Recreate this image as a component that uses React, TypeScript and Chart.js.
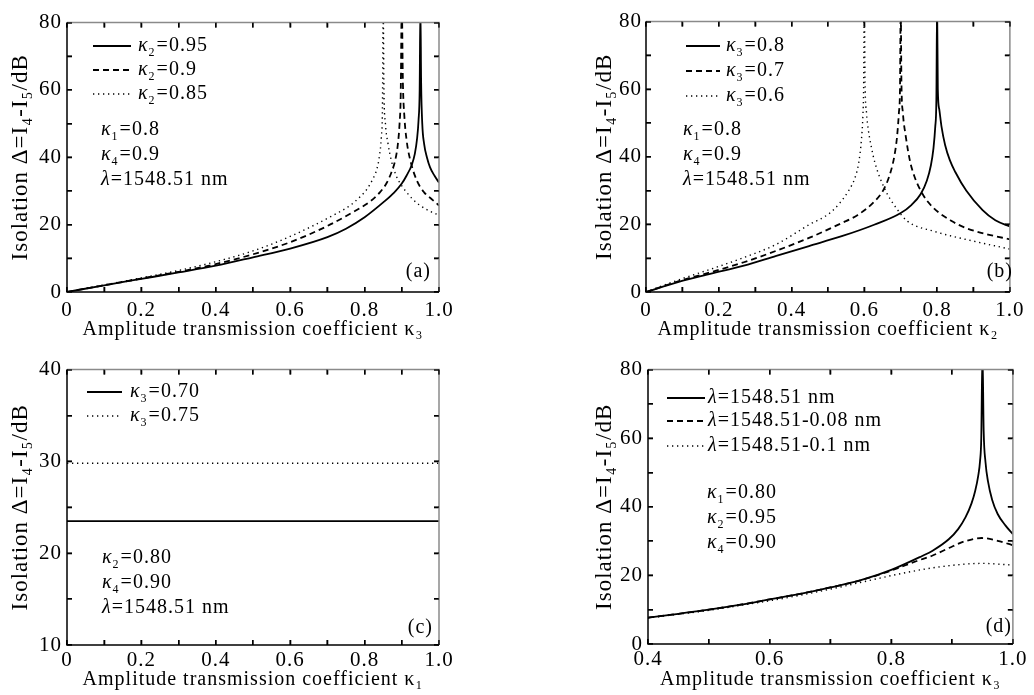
import React, { useEffect, useRef } from 'react';
import { Chart, registerables } from 'chart.js';

Chart.register(...registerables);

const FONT = '"Liberation Serif", "Times New Roman", serif';

// ---------- Panel (a): x = κ3 ----------
const aSolidX = [0, 0.1, 0.2, 0.3, 0.4, 0.5, 0.6, 0.7, 0.75, 0.8, 0.85, 0.88, 0.9, 0.913, 0.927, 0.935, 0.941, 0.945, 0.948, 0.95, 0.952, 0.955, 0.96, 0.968, 0.976, 0.988, 1.0];
const aSolidY = [0, 2.0, 3.9, 5.8, 7.8, 10.3, 12.9, 16.3, 18.8, 22.2, 26.6, 29.6, 32.2, 34.6, 37.8, 41, 45.5, 51, 60, 85, 62, 50, 44, 39.8, 37, 34.5, 32.5];
const aDashX = [0, 0.1, 0.2, 0.3, 0.4, 0.5, 0.6, 0.7, 0.77, 0.815, 0.841, 0.86, 0.872, 0.882, 0.889, 0.894, 0.897, 0.9, 0.903, 0.907, 0.913, 0.922, 0.94, 0.96, 0.976, 1.0];
const aDashY = [0, 2.0, 4.0, 6.0, 8.3, 11.2, 14.8, 19.6, 23.8, 26.9, 29.6, 32.5, 35.5, 39, 43.5, 50, 58, 85, 62, 52, 45, 39.5, 33.2, 29.6, 28, 25.7];
const aDotX = [0, 0.1, 0.2, 0.3, 0.4, 0.5, 0.6, 0.716, 0.761, 0.79, 0.806, 0.822, 0.833, 0.84, 0.845, 0.848, 0.85, 0.852, 0.856, 0.863, 0.872, 0.885, 0.9, 0.913, 0.93, 0.949, 0.975, 1.0];
const aDotY = [0, 2.1, 4.2, 6.4, 9.0, 12.2, 16.5, 22.8, 25.7, 28.5, 30.5, 33.5, 36.5, 40.5, 46, 55, 85, 60, 50, 44, 39, 34.5, 31.5, 29.6, 27.5, 25.7, 24, 22.8];
const aLabels = ['κ₂=0.95', 'κ₂=0.9', 'κ₂=0.85'];
const aNotes = ['κ₁=0.8', 'κ₄=0.9', 'λ=1548.51 nm'];

// ---------- Panel (b): x = κ2 ----------
const bSolidX = [0, 0.09, 0.179, 0.269, 0.358, 0.448, 0.538, 0.627, 0.699, 0.73, 0.755, 0.772, 0.783, 0.79, 0.795, 0.798, 0.8, 0.802, 0.806, 0.812, 0.822, 0.835, 0.85, 0.88, 0.925, 0.96, 1.0];
const bSolidY = [0, 3.0, 5.4, 7.8, 10.7, 13.6, 16.5, 19.9, 23.3, 25.8, 29, 33, 37.5, 42.5, 49, 57, 85, 60, 54, 49, 43.5, 39, 35.5, 30, 24.2, 21.2, 19.4];
const bDashX = [0, 0.09, 0.179, 0.269, 0.358, 0.448, 0.538, 0.582, 0.627, 0.654, 0.672, 0.683, 0.69, 0.695, 0.698, 0.7, 0.702, 0.706, 0.714, 0.725, 0.737, 0.76, 0.79, 0.84, 0.88, 0.94, 1.0];
const bDashY = [0, 3.2, 5.9, 8.8, 12.2, 16.0, 20.4, 22.8, 26.7, 30.5, 35.4, 40.5, 46, 53, 60, 85, 62, 53, 46, 39, 34.4, 29, 24.9, 21, 18.9, 17, 15.6];
const bDotX = [0, 0.09, 0.179, 0.269, 0.358, 0.448, 0.51, 0.557, 0.575, 0.585, 0.592, 0.596, 0.598, 0.6, 0.602, 0.606, 0.611, 0.62, 0.629, 0.656, 0.69, 0.719, 0.79, 0.898, 1.0];
const bDotY = [0, 3.6, 6.8, 10.2, 14.1, 19.9, 23.8, 30.0, 34, 38.5, 45, 52, 60, 85, 62, 53, 48, 42.5, 38.3, 30.5, 24.5, 20.9, 18, 15.1, 12.7];
const bLabels = ['κ₃=0.8', 'κ₃=0.7', 'κ₃=0.6'];
const bNotes = ['κ₁=0.8', 'κ₄=0.9', 'λ=1548.51 nm'];

// ---------- Panel (c): x = κ1 ----------
const cX = [0, 0.2, 0.4, 0.6, 0.8, 1.0];
const cSolidY = [23.5, 23.5, 23.5, 23.5, 23.5, 23.5];
const cDotY = [29.8, 29.8, 29.8, 29.8, 29.8, 29.8];
const cLabels = ['κ₃=0.70', 'κ₃=0.75'];
const cNotes = ['κ₂=0.80', 'κ₄=0.90', 'λ=1548.51 nm'];

// ---------- Panel (d): x = κ3 ----------
const dSolidX = [0.4, 0.45, 0.5, 0.55, 0.6, 0.65, 0.7, 0.75, 0.8, 0.85, 0.868, 0.895, 0.91, 0.922, 0.932, 0.938, 0.943, 0.946, 0.948, 0.95, 0.952, 0.955, 0.959, 0.966, 0.975, 0.988, 1.0];
const dSolidY = [7.7, 8.8, 10.0, 11.4, 13.0, 14.6, 16.5, 18.6, 21.6, 25.6, 27.2, 30.6, 33.5, 36.9, 41, 44.6, 49, 53.3, 60, 85, 62, 53, 47.5, 42, 37.9, 34.5, 32];
const dDashX = [0.4, 0.45, 0.5, 0.55, 0.6, 0.65, 0.7, 0.75, 0.8, 0.842, 0.868, 0.895, 0.922, 0.949, 0.975, 1.0];
const dDashY = [7.7, 8.8, 10.0, 11.4, 13.0, 14.6, 16.5, 18.6, 21.4, 24.2, 25.8, 28.0, 30.0, 30.9, 30.1, 28.8];
const dDotX = [0.4, 0.45, 0.5, 0.55, 0.6, 0.65, 0.708, 0.761, 0.815, 0.868, 0.922, 0.95, 0.975, 1.0];
const dDotY = [7.6, 8.7, 9.8, 11.2, 12.6, 14.2, 16.3, 18.4, 20.5, 22.2, 23.3, 23.5, 23.3, 23.0];
const dLabels = ['λ=1548.51 nm', 'λ=1548.51-0.08 nm', 'λ=1548.51-0.1 nm'];
const dNotes = ['κ₁=0.80', 'κ₂=0.95', 'κ₄=0.90'];

// ---------- minor tick positions ----------
const tickX01 = [0, 0.1, 0.2, 0.3, 0.4, 0.5, 0.6, 0.7, 0.8, 0.9, 1.0];
const tickX41 = [0.4, 0.5, 0.6, 0.7, 0.8, 0.9, 1.0];
const tickY80 = [0, 10, 20, 30, 40, 50, 60, 70, 80];
const tickY40 = [10, 15, 20, 25, 30, 35, 40];

const panelTags = ['(a)', '(b)', '(c)', '(d)'];
const yTitle = 'Isolation Δ=I₄-I₅/dB';
const xTitles = [
  'Amplitude transmission coefficient κ₃',
  'Amplitude transmission coefficient κ₂',
  'Amplitude transmission coefficient κ₁',
  'Amplitude transmission coefficient κ₃',
];

// ---------- styles ----------
const STYLE = {
  solid: { dash: [] as number[], width: 1.8 },
  dash: { dash: [6, 4], width: 1.8 },
  dot: { dash: [1.3, 3.7], width: 1.4 },
};

const pts = (xs: number[], ys: number[]) => xs.map((x, i) => ({ x, y: ys[i] }));

type Layout = {
  box: { l: number; t: number; w: number; h: number };
  area: { l: number; r: number; t: number; b: number };
  xMin: number;
  xMax: number;
  yMin: number;
  yMax: number;
  yStep: number;
  yMinorStep: number;
  xTicks: number[];
  yTicks: number[];
  yTitleX: number;
  xTitleOff: number;
  xTickPad: number;
  yTickPad: number;
  legend: { x0: number; x1: number; tx: number; rows: number[] };
  notes: { x: number; rows: number[] };
  tag: { r: number; y: number };
};

const PANELS: { layout: Layout; series: { label: string; data: { x: number; y: number }[]; style: keyof typeof STYLE }[]; notes: string[]; tag: string; xTitle: string }[] = [
  {
    layout: {
      box: { l: 0, t: 0, w: 517, h: 347 },
      area: { l: 67, r: 439, t: 16, b: 292 },
      xMin: 0, xMax: 1, yMin: 0, yMax: 80, yStep: 20, yMinorStep: 10, xTicks: tickX01, yTicks: tickY80,
      yTitleX: 21, xTitleOff: 17, xTickPad: 6, yTickPad: 5,
      legend: { x0: 93, x1: 131, tx: 138, rows: [46, 70, 94] },
      notes: { x: 101, rows: [130, 155, 180] },
      tag: { r: 431, y: 272 },
    },
    series: [
      { label: aLabels[0], data: pts(aSolidX, aSolidY), style: 'solid' },
      { label: aLabels[1], data: pts(aDashX, aDashY), style: 'dash' },
      { label: aLabels[2], data: pts(aDotX, aDotY), style: 'dot' },
    ],
    notes: aNotes, tag: panelTags[0], xTitle: xTitles[0],
  },
  {
    layout: {
      box: { l: 517, t: 0, w: 517, h: 347 },
      area: { l: 646, r: 1018, t: 16, b: 292 },
      xMin: 0, xMax: 1, yMin: 0, yMax: 80, yStep: 20, yMinorStep: 10, xTicks: tickX01, yTicks: tickY80,
      yTitleX: 605, xTitleOff: 17, xTickPad: 6, yTickPad: 4,
      legend: { x0: 686, x1: 720, tx: 726, rows: [46, 71, 96] },
      notes: { x: 683, rows: [130, 155, 180] },
      tag: { r: 1013, y: 272 },
    },
    series: [
      { label: bLabels[0], data: pts(bSolidX, bSolidY), style: 'solid' },
      { label: bLabels[1], data: pts(bDashX, bDashY), style: 'dash' },
      { label: bLabels[2], data: pts(bDotX, bDotY), style: 'dot' },
    ],
    notes: bNotes, tag: panelTags[1], xTitle: xTitles[1],
  },
  {
    layout: {
      box: { l: 0, t: 347, w: 517, h: 348 },
      area: { l: 67, r: 439, t: 369, b: 645 },
      xMin: 0, xMax: 1, yMin: 10, yMax: 40, yStep: 10, yMinorStep: 5, xTicks: tickX01, yTicks: tickY40,
      yTitleX: 21, xTitleOff: 15, xTickPad: 3, yTickPad: 5,
      legend: { x0: 87, x1: 122, tx: 130, rows: [392, 416] },
      notes: { x: 102, rows: [558, 583, 608] },
      tag: { r: 433, y: 628 },
    },
    series: [
      { label: cLabels[0], data: pts(cX, cSolidY), style: 'solid' },
      { label: cLabels[1], data: pts(cX, cDotY), style: 'dot' },
    ],
    notes: cNotes, tag: panelTags[2], xTitle: xTitles[2],
  },
  {
    layout: {
      box: { l: 517, t: 347, w: 517, h: 348 },
      area: { l: 648, r: 1022, t: 368, b: 644 },
      xMin: 0.4, xMax: 1, yMin: 0, yMax: 80, yStep: 20, yMinorStep: 10, xTicks: tickX41, yTicks: tickY80,
      yTitleX: 605, xTitleOff: 15, xTickPad: 3, yTickPad: 5,
      legend: { x0: 667, x1: 705, tx: 708, rows: [398, 421, 446] },
      notes: { x: 707, rows: [493, 518, 543] },
      tag: { r: 1012, y: 627 },
    },
    series: [
      { label: dLabels[0], data: pts(dSolidX, dSolidY), style: 'solid' },
      { label: dLabels[1], data: pts(dDashX, dDashY), style: 'dash' },
      { label: dLabels[2], data: pts(dDotX, dDotY), style: 'dot' },
    ],
    notes: dNotes, tag: panelTags[3], xTitle: xTitles[3],
  },
];

// ---------- rich text (italic greek, subscripts) ----------
const SUBS = '₀₁₂₃₄₅₆₇₈₉';
function toSegs(s: string) {
  const out: { kind: string; t: string }[] = [];
  for (const ch of s) {
    const si = SUBS.indexOf(ch);
    const kind = si >= 0 ? 'sub' : 'κλΔ'.includes(ch) ? 'it' : 'n';
    const t = si >= 0 ? String(si) : ch;
    const last = out[out.length - 1];
    if (last && last.kind === kind) last.t += t;
    else out.push({ kind, t });
  }
  return out;
}
function drawRich(ctx: CanvasRenderingContext2D, s: string, x: number, y: number, size: number) {
  let cx = x;
  for (const seg of toSegs(s)) {
    const fs = seg.kind === 'sub' ? Math.round(size * 0.6) : size;
    ctx.font = `${seg.kind === 'it' ? 'italic ' : ''}${fs}px ${FONT}`;
    const dy = seg.kind === 'sub' ? size * 0.32 : 0;
    ctx.fillText(seg.t, cx, y + dy);
    cx += ctx.measureText(seg.t).width + (seg.kind === 'sub' ? 1 : 0);
  }
}

const TICK_LEN = 5;

function Panel({ p }: { p: (typeof PANELS)[number] }) {
  const ref = useRef<HTMLCanvasElement>(null);
  useEffect(() => {
    const L = p.layout;
    const ox = L.box.l;
    const oy = L.box.t;
    const yW = L.area.l - L.box.l;
    const xH = L.box.t + L.box.h - L.area.b;
    const tickFont = { family: FONT, size: 21, lineHeight: 1.2 };
    const xTitleFont = { family: FONT, size: 20, lineHeight: 1.2 };
    const yTitleFont = { family: FONT, size: 23, lineHeight: 1.2 };
    // inward tick marks drawn by Chart.js itself (negative tick length)
    const tickGrid = {
      display: true,
      drawOnChartArea: false,
      drawTicks: true,
      tickLength: -TICK_LEN,
      tickWidth: 1.3,
      tickColor: '#000',
      color: '#000',
      lineWidth: 1.3,
    };
    const isMajorX = (v: number) => Math.round(v * 10) % 2 === 0;
    const isMajorY = (v: number) => Math.abs(v / L.yStep - Math.round(v / L.yStep)) < 1e-6;

    const decor = {
      id: 'decor',
      beforeDraw(chart: any) {
        chart.ctx.letterSpacing = '1px';
      },
      afterDraw(chart: any) {
        const ctx: CanvasRenderingContext2D = chart.ctx;
        const ca = chart.chartArea;
        const x0 = ca.left, x1 = ca.right, y0 = ca.top, y1 = ca.bottom;
        const xPix = (v: number) => x0 + ((v - L.xMin) / (L.xMax - L.xMin)) * (x1 - x0);
        const yPix = (v: number) => y1 - ((v - L.yMin) / (L.yMax - L.yMin)) * (y1 - y0);
        ctx.save();
        ctx.setLineDash([]);
        // frame
        ctx.strokeStyle = '#8a8a8a';
        ctx.lineWidth = 1.5;
        ctx.beginPath();
        ctx.moveTo(x0, y0); ctx.lineTo(x1, y0); ctx.lineTo(x1, y1);
        ctx.stroke();
        ctx.strokeStyle = '#000';
        ctx.beginPath();
        ctx.moveTo(x0, y0); ctx.lineTo(x0, y1); ctx.lineTo(x1, y1);
        ctx.stroke();
        // inward ticks (duplicate of the scale ticks, same positions)
        ctx.fillStyle = '#000';
        L.xTicks.forEach((v) => {
          const px = Math.round(xPix(v));
          ctx.fillRect(px - 0.6, y1 - TICK_LEN, 1.2, TICK_LEN);
          ctx.fillRect(px - 0.6, y0, 1.2, TICK_LEN);
        });
        L.yTicks.forEach((v) => {
          const py = Math.round(yPix(v));
          ctx.fillRect(x0, py - 0.6, TICK_LEN, 1.2);
          ctx.fillRect(x1 - TICK_LEN, py - 0.6, TICK_LEN, 1.2);
        });

        // legend
        ctx.fillStyle = '#000';
        ctx.textBaseline = 'middle';
        ctx.textAlign = 'left';
        ctx.letterSpacing = '1px';
        p.series.forEach((s, i) => {
          const st = STYLE[s.style];
          const y = L.legend.rows[i] - oy;
          ctx.strokeStyle = '#000';
          ctx.lineWidth = st.width;
          ctx.setLineDash(st.dash);
          ctx.beginPath();
          ctx.moveTo(L.legend.x0 - ox, y);
          ctx.lineTo(L.legend.x1 - ox, y);
          ctx.stroke();
          drawRich(ctx, s.label, L.legend.tx - ox, y, 20);
        });
        ctx.setLineDash([]);
        p.notes.forEach((n, i) => drawRich(ctx, n, L.notes.x - ox, L.notes.rows[i] - oy, 20));
        ctx.font = `20px ${FONT}`;
        ctx.textAlign = 'right';
        ctx.fillText(p.tag, L.tag.r - ox, L.tag.y - oy);
        ctx.restore();
      },
    };

    const chart = new Chart(ref.current as HTMLCanvasElement, {
      type: 'line',
      data: {
        datasets: p.series.map((s) => ({
          label: s.label,
          data: s.data,
          borderColor: '#000',
          backgroundColor: '#000',
          borderWidth: STYLE[s.style].width,
          borderDash: STYLE[s.style].dash,
          pointRadius: 0,
          cubicInterpolationMode: 'monotone',
          fill: false,
          xAxisID: 'x',
          yAxisID: 'y',
        })),
      },
      options: {
        responsive: false,
        animation: false,
        devicePixelRatio: 1,
        events: [],
        layout: {
          padding: {
            left: 0,
            top: L.area.t - L.box.t,
            right: L.box.l + L.box.w - L.area.r,
            bottom: 0,
          },
        },
        plugins: { legend: { display: false }, tooltip: { enabled: false } },
        scales: {
          x: {
            type: 'linear',
            position: 'bottom',
            min: L.xMin,
            max: L.xMax,
            grid: tickGrid,
            border: { display: false },
            ticks: {
              stepSize: 0.1,
              color: '#000',
              font: tickFont,
              padding: L.xTickPad + TICK_LEN,
              maxRotation: 0,
              autoSkip: false,
              callback: (v: any) => {
                const n = Number(v);
                if (!isMajorX(n)) return '';
                return n === 0 ? '0' : n.toFixed(1);
              },
            },
            title: {
              display: true,
              text: p.xTitle,
              color: '#000',
              font: xTitleFont,
              padding: { top: 0, bottom: L.xTitleOff - 12 },
            },
            afterFit: (s: any) => { s.height = xH; },
          },
          x2: {
            type: 'linear',
            position: 'top',
            min: L.xMin,
            max: L.xMax,
            grid: tickGrid,
            border: { display: false },
            ticks: { stepSize: 0.1, display: false, autoSkip: false },
            afterFit: (s: any) => { s.height = 0; },
          },
          y: {
            type: 'linear',
            position: 'left',
            min: L.yMin,
            max: L.yMax,
            grid: tickGrid,
            border: { display: false },
            ticks: {
              stepSize: L.yMinorStep,
              color: '#000',
              font: tickFont,
              padding: L.yTickPad + TICK_LEN,
              autoSkip: false,
              callback: (v: any) => (isMajorY(Number(v)) ? String(Number(v)) : ''),
            },
            title: {
              display: true,
              text: yTitle,
              color: '#000',
              font: yTitleFont,
              padding: { top: L.yTitleX - ox - 13.8, bottom: 0 },
            },
            afterFit: (s: any) => { s.width = yW; },
          },
          y2: {
            type: 'linear',
            position: 'right',
            min: L.yMin,
            max: L.yMax,
            grid: tickGrid,
            border: { display: false },
            ticks: { stepSize: L.yMinorStep, display: false, autoSkip: false },
            afterFit: (s: any) => { s.width = 0; },
          },
        },
      },
      plugins: [decor],
    } as any);
    return () => chart.destroy();
  }, [p]);
  const L = p.layout;
  return (
    <canvas
      ref={ref}
      width={L.box.w}
      height={L.box.h}
      style={{ position: 'absolute', left: L.box.l, top: L.box.t, width: L.box.w, height: L.box.h }}
    />
  );
}

export default function App() {
  return (
    <div style={{ position: 'absolute', left: 0, top: 0, width: 1034, height: 695, background: '#fff' }}>
      {PANELS.map((p, i) => (
        <Panel key={i} p={p} />
      ))}
    </div>
  );
}
